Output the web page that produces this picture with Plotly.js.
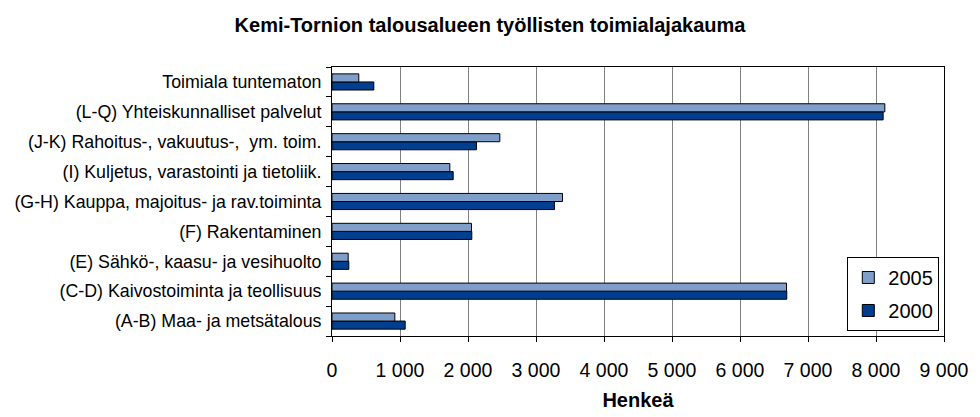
<!DOCTYPE html>
<html>
<head>
<meta charset="utf-8">
<script src="https://cdn.plot.ly/plotly-3.0.1.min.js"></script>
<style>html,body{margin:0;padding:0;background:#fff;}#chart{width:980px;height:417px;}</style>
</head>
<body>
<div id="chart"></div>
<script>
const categories = [
  "(A-B) Maa- ja metsätalous",
  "(C-D) Kaivostoiminta ja teollisuus",
  "(E) Sähkö-, kaasu- ja vesihuolto",
  "(F) Rakentaminen",
  "(G-H) Kauppa, majoitus- ja rav.toiminta",
  "(I) Kuljetus, varastointi ja tietoliik.",
  "(J-K) Rahoitus-, vakuutus-,  ym. toim.",
  "(L-Q) Yhteiskunnalliset palvelut",
  "Toimiala tuntematon"
];
const values2000 = [1076, 6688, 247, 2056, 3272, 1782, 2125, 8105, 615];
const values2005 = [924, 6684, 238, 2051, 3390, 1733, 2468, 8130, 394];
const seriesNames = ["2000", "2005"];
const xTicks = [0, 1000, 2000, 3000, 4000, 5000, 6000, 7000, 8000, 9000];

const font = "Liberation Sans, Arial, sans-serif";

const traces = [
  {
    type: "bar", orientation: "h", name: seriesNames[0], legendgroup: "a", legendrank: 2,
    y: categories, x: values2000,
    marker: {color: "#003f8f", line: {color: "#000", width: 1}}
  },
  {
    type: "bar", orientation: "h", name: seriesNames[1], legendgroup: "b", legendrank: 1,
    y: categories, x: values2005,
    marker: {color: "#7f9fca", line: {color: "#000", width: 1}}
  }
];

const layout = {
  width: 980, height: 417,
  margin: {l: 331.5, r: 36, t: 67, b: 81, pad: 0},
  paper_bgcolor: "#fff", plot_bgcolor: "#fff",
  separators: ", ",
  barmode: "group", bargap: 0.46, bargroupgap: 0,
  showlegend: true,
  title: {
    text: "<b>Kemi-Tornion talousalueen työllisten toimialajakauma</b>",
    font: {family: font, size: 20, color: "#000"},
    x: 0.5, xanchor: "center", y: 0.941, yanchor: "middle", yref: "container"
  },
  xaxis: {
    range: [0, 9000], tickvals: xTicks, tickformat: ",",
    showgrid: true, gridcolor: "#808080", gridwidth: 1,
    zeroline: false,
    showline: true, linecolor: "#000", linewidth: 1, mirror: true,
    ticks: "outside", ticklen: 5, tickcolor: "#000",
    ticklabelstandoff: 12,
    tickfont: {family: font, size: 19.5, color: "#000"},
    title: {text: "<b>Henkeä</b>", font: {family: font, size: 20, color: "#000"}, standoff: 12},
    fixedrange: true
  },
  yaxis: {
    type: "category",
    showgrid: false, zeroline: false,
    showline: true, linecolor: "#000", linewidth: 1, mirror: true,
    ticks: "outside", ticklen: 5, tickcolor: "#000", tickson: "boundaries",
    ticklabelstandoff: 6,
    tickfont: {family: font, size: 17.8, color: "#000"},
    fixedrange: true
  },
  legend: {
    x: 0.842, y: 0.2937, xanchor: "left", yanchor: "top",
    traceorder: "grouped", tracegroupgap: 4,
    bgcolor: "#fff", bordercolor: "#000", borderwidth: 1,
    font: {family: font, size: 20, color: "#000"},
    itemwidth: 30
  }
};

Plotly.newPlot("chart", traces, layout, {displayModeBar: false, staticPlot: true});
</script>
</body>
</html>
